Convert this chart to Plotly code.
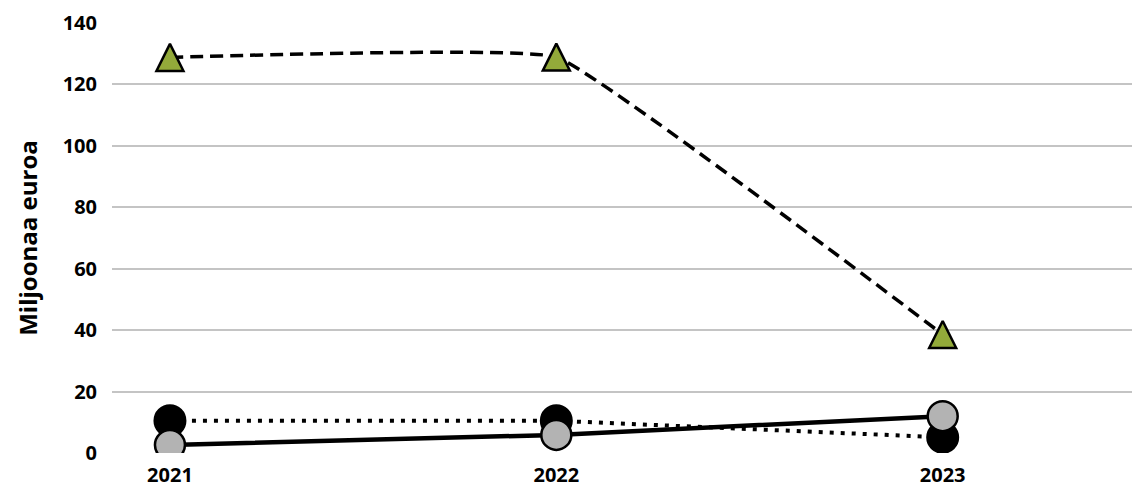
import plotly.graph_objects as go

years = ["2021", "2022", "2023"]
green_series = [128.8, 128.9, 38.6]
black_series = [10.5, 10.5, 5.1]
grey_series = [2.6, 5.9, 12.0]
y_ticks = [0, 20, 40, 60, 80, 100, 120, 140]

FONT = "Open Sans"
Y_RANGE = [0, 140]
PLOT_TOP, PLOT_BOTTOM = 23, 37
FIG_W, FIG_H = 1132, 490
TRI_SIZE = 27

# the arrow-up glyph hangs below its anchor point; a twin axis shifted by half
# a glyph (in data units) puts the triangle's centre on the value instead
px_per_unit = (FIG_H - PLOT_TOP - PLOT_BOTTOM) / (Y_RANGE[1] - Y_RANGE[0])
shift = (TRI_SIZE / 2) / px_per_unit

fig = go.Figure()

# dotted line with black circles
fig.add_trace(go.Scatter(
    x=years, y=black_series, mode="lines+markers",
    line=dict(color="black", width=4, dash="4px,7px"),
    marker=dict(symbol="circle", size=31, color="black",
                line=dict(color="black", width=2)),
    hoverinfo="skip", showlegend=False,
))

# solid line with grey circles
fig.add_trace(go.Scatter(
    x=years, y=grey_series, mode="lines+markers",
    line=dict(color="black", width=4.5),
    marker=dict(symbol="circle", size=30, color="#b3b3b3",
                line=dict(color="black", width=2.5)),
    hoverinfo="skip", showlegend=False,
))

# smoothed dashed line
fig.add_trace(go.Scatter(
    x=years, y=green_series, mode="lines",
    line=dict(color="black", width=3.5, dash="13px,7px", shape="spline", smoothing=0.25),
    hoverinfo="skip", showlegend=False,
))
# green triangles
fig.add_trace(go.Scatter(
    x=years, y=green_series, mode="markers", yaxis="y2",
    marker=dict(symbol="arrow-up", size=TRI_SIZE, color="#93aa3a",
                line=dict(color="black", width=2.5)),
    hoverinfo="skip", showlegend=False,
))

tick_font = dict(family=FONT, size=20, color="black", weight="bold")

fig.update_layout(
    width=FIG_W, height=FIG_H,
    margin=dict(l=112, r=0, t=PLOT_TOP, b=PLOT_BOTTOM),
    paper_bgcolor="white", plot_bgcolor="white",
    font=dict(family=FONT, size=20, color="black"),
    xaxis=dict(
        type="category", range=[-0.15, 2.49],
        showgrid=False, showline=False, zeroline=False, ticks="",
        tickfont=tick_font, ticklabelstandoff=8,
    ),
    yaxis=dict(
        range=Y_RANGE, tickvals=y_ticks,
        showgrid=True, gridcolor="#c4c4c4", gridwidth=1.5,
        zeroline=False, showline=False, ticks="",
        tickfont=tick_font, ticklabelstandoff=14,
        title=dict(text="Miljoonaa euroa", standoff=18,
                   font=dict(family=FONT, size=24, color="black", weight="bold")),
    ),
    yaxis2=dict(
        overlaying="y", range=[Y_RANGE[0] - shift, Y_RANGE[1] - shift],
        visible=False,
    ),
)

fig.write_html("out.html")
